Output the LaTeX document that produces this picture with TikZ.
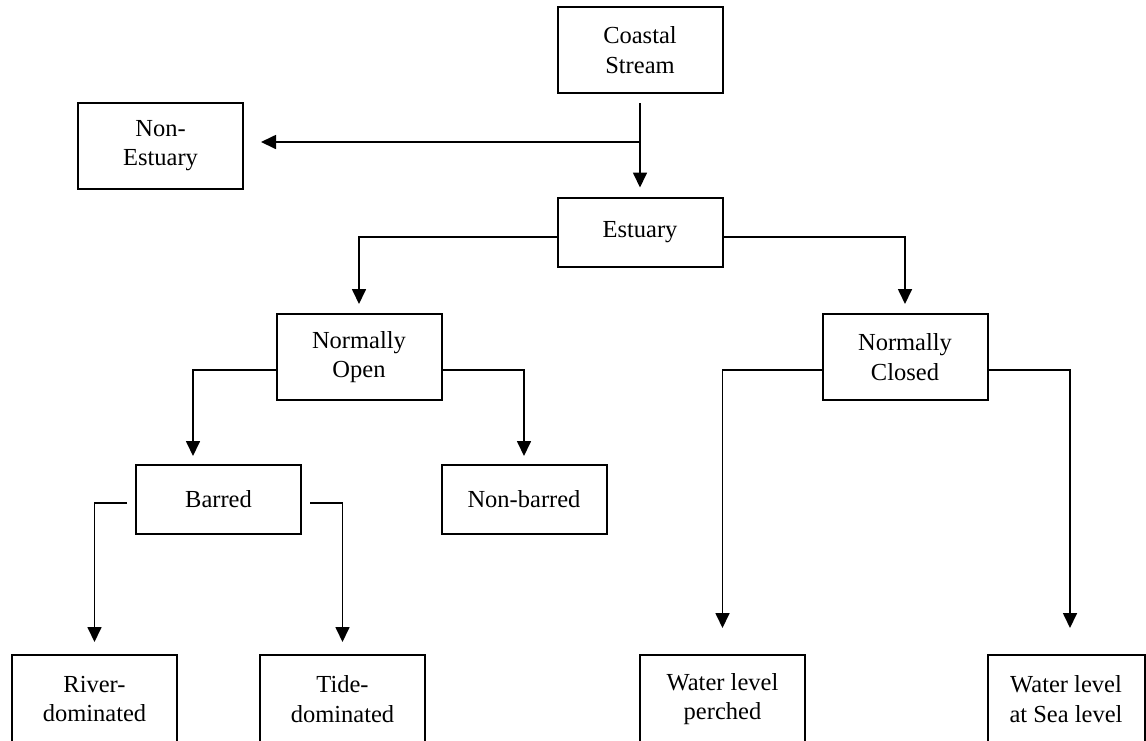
\documentclass[tikz,border=0pt]{standalone}
\usepackage{fontspec}
\setmainfont{Liberation Serif}
\usetikzlibrary{arrows.meta}

\begin{document}
\begin{tikzpicture}
[x=1pt,y=-1pt,every node/.style={shape=rectangle,draw,line width=2pt,
	inner sep=0pt,align=center,minimum width=165pt,
	font=\fontsize{24.5}{29.5}\selectfont},
 tall/.style={minimum height=86pt},
 flat/.style={minimum height=69pt},
 link/.style={line width=1.7pt,-{Triangle[length=15pt,width=14pt]}}]
\useasboundingbox (0,0) rectangle (1146,740);
\clip (0,0) rectangle (1146,740);

\node[tall] (coast) at (640,50) {Coastal\\Stream};
\node[tall] (nonest) at (160.5,145.5) {Non-\\Estuary};
\node[flat] (est) at (640,232) {Estuary};

\node[tall] (nopen) at (359,357) {Normally\\Open};
\node[tall] (nclosed) at (905,357) {Normally\\Closed};

\node[flat] (barred) at (218.5,499.5) {Barred};
\node[flat] (nonbar) at (524,499.5) {Non-barred};

\node[minimum height=88pt] (river) at (94.5,699) {River-\\dominated};
\node[minimum height=88pt] (tide) at (342.5,699) {Tide-\\dominated};
\node[minimum height=88pt] (perched) at (722.5,699) {Water level\\perched};
\node[minimum height=88pt,minimum width=157pt] (sea) at (1066,699) {Water level\\at Sea level};

% branch points and side exits
\coordinate (split) at (640,142);
\coordinate (bartop) at ([xshift=-25.5pt]barred.north);
\coordinate (seatop) at ([xshift=4pt]sea.north);
\coordinate (estl) at ([yshift=-5pt]est.west);
\coordinate (estr) at ([yshift=-5pt]est.east);
\coordinate (openl) at ([yshift=-13pt]nopen.west);
\coordinate (openr) at ([yshift=-13pt]nopen.east);
\coordinate (closl) at ([yshift=-13pt]nclosed.west);
\coordinate (closr) at ([yshift=-13pt]nclosed.east);
\coordinate (barl) at ([yshift=-3.5pt]barred.west);
\coordinate (barr) at ([yshift=-3.5pt]barred.east);

\draw[link,shorten <=9pt,shorten >=9pt] (coast) -- (est);
\draw[link,shorten >=17pt] (split) -- (split -| nonest.east);

\foreach \from/\to/\gap in {estl/nopen.north/9, estr/nclosed.north/9,
	openl/bartop/8, openr/nonbar.north/8,
	closl/perched.north/26, closr/seatop/26}
{
	\draw[link,shorten >=\gap pt] (\from) -| (\to);
};
\foreach \from/\to in {barl/river.north, barr/tide.north}
{
	\draw[link,shorten <=8pt,shorten >=12pt] (\from) -| (\to);
};
\end{tikzpicture}
\end{document}
